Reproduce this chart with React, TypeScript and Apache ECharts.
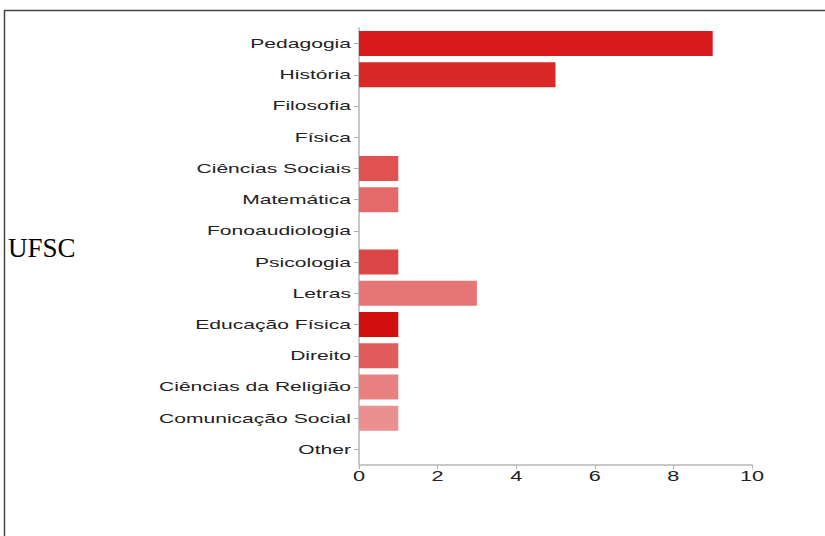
import React, { useEffect, useRef } from "react";
import * as echarts from "echarts";

const categories = [
  "Pedagogia",
  "História",
  "Filosofia",
  "Física",
  "Ciências Sociais",
  "Matemática",
  "Fonoaudiologia",
  "Psicologia",
  "Letras",
  "Educação Física",
  "Direito",
  "Ciências da Religião",
  "Comunicação Social",
  "Other",
];
const values = [9, 5, 0, 0, 1, 1, 0, 1, 3, 1, 1, 1, 1, 0];
const barColors = [
  "#d7191c",
  "#d92828",
  "#e05252",
  "#e05252",
  "#e05252",
  "#e46a6a",
  "#e05252",
  "#dd4646",
  "#e67575",
  "#d20f0f",
  "#e15c5c",
  "#e88080",
  "#ea9090",
  "#ea9090",
];
const xTickValues = [0, 2, 4, 6, 8, 10];
const xTicks = { min: 0, max: 10, interval: 2 };
const sideLabel = "UFSC";

export default function App() {
  const ref = useRef<HTMLDivElement>(null);
  useEffect(() => {
    if (!ref.current) return;
    const chart = echarts.init(ref.current, null, { renderer: "svg" });
    const frame = [
      {
        type: "line",
        shape: { x1: 4.5, y1: 10, x2: 4.5, y2: 536 },
        style: { stroke: "#444", lineWidth: 1.5 },
      },
      {
        type: "line",
        shape: { x1: 4, y1: 10.5, x2: 825, y2: 10.5 },
        style: { stroke: "#444", lineWidth: 1.5 },
      },
      {
        type: "text",
        x: 8,
        y: 248,
        style: {
          text: sideLabel,
          fill: "#000",
          font: '27px "Liberation Serif"',
          textVerticalAlign: "middle",
        },
      },
    ];
    chart.setOption({
      animation: false,
      backgroundColor: "#ffffff",
      grid: { left: 359, right: 73, top: 28, bottom: 71, containLabel: false },
      xAxis: {
        type: "value",
        min: xTicks.min,
        max: xTicks.max,
        interval: xTicks.interval,
        splitLine: { show: false },
        axisLine: { show: true, lineStyle: { color: "#c8c8c8", width: 2 } },
        axisTick: { show: true, length: 4, lineStyle: { color: "#b0b0b0" } },
        axisLabel: { show: false },
      },
      yAxis: {
        type: "category",
        data: categories,
        inverse: true,
        axisLine: { show: true, lineStyle: { color: "#c8c8c8", width: 2 } },
        axisTick: { show: true, alignWithLabel: true, length: 5, lineStyle: { color: "#b0b0b0" } },
        axisLabel: { show: false },
      },
      series: [
        {
          type: "bar",
          data: values.map((v, i) => ({ value: v, itemStyle: { color: barColors[i] } })),
          barCategoryGap: "20%",
        },
      ],
      graphic: frame,
    });

    const axisX = chart.convertToPixel({ xAxisIndex: 0 }, 0) as number;
    const axisY = chart.convertToPixel({ yAxisIndex: 0 }, categories[categories.length - 1]) as number;
    const gridBottom = 536 - 71;
    const yLabels = categories.map((c) => ({
      type: "text",
      x: axisX - 8,
      y: chart.convertToPixel({ yAxisIndex: 0 }, c) as number,
      scaleX: 1.62,
      style: {
        text: c,
        fill: "#222",
        font: '13px "Liberation Sans"',
        textAlign: "right",
        textVerticalAlign: "middle",
      },
    }));
    const xLabels = xTickValues.map((v) => ({
      type: "text",
      x: chart.convertToPixel({ xAxisIndex: 0 }, v) as number,
      y: gridBottom + 11,
      scaleX: 1.55,
      style: {
        text: String(v),
        fill: "#222",
        font: '14px "Liberation Sans"',
        textAlign: "center",
        textVerticalAlign: "middle",
      },
    }));
    void axisY;
    chart.setOption({ graphic: [...frame, ...yLabels, ...xLabels] });
    return () => chart.dispose();
  }, []);
  return (
    <div style={{ position: "fixed", left: 0, top: 0, width: 825, height: 536, background: "#fff" }}>
      <div ref={ref} style={{ width: 825, height: 536 }} />
    </div>
  );
}
